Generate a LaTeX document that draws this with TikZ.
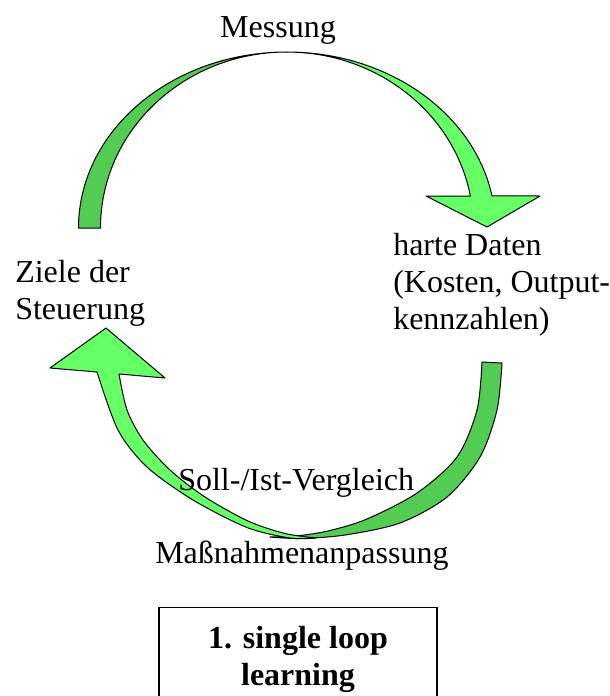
\documentclass[tikz,border=0pt]{standalone}
\usepackage{fontspec}
\setmainfont{Liberation Serif}
\usepackage{tikz}
\usetikzlibrary{positioning}
\definecolor{loopgreen}{HTML}{66FF66}
\definecolor{loopshade}{HTML}{52CC52}

\begin{document}
\begin{tikzpicture}[
    x=0.75pt, y=-0.75pt,
    label/.style={font=\fontsize{24}{27.6}\selectfont, inner sep=0pt, align=left},
    backface/.style={draw=black, line width=0.75pt, fill=loopshade, line join=round},
    frontface/.style={draw=black, line width=0.75pt, fill=loopgreen, line join=round},
    titlebox/.style={draw, line width=1pt, font=\fontsize{24}{27.6}\selectfont\bfseries,
                     align=center, minimum width=208.5pt, inner xsep=4pt, inner ysep=14pt}
]
\path[use as bounding box] (0,0) rectangle (610,696);
\clip (0,0) rectangle (610,696);

% --- upper arrow (Ziele -> harte Daten) ---
\draw[backface] (78.5,228) arc[start angle=180, end angle=270, x radius=208.5, y radius=176]
    arc[start angle=270, end angle=180, x radius=186.5, y radius=176] -- cycle;
\draw[frontface] (287,52) arc[start angle=270, end angle=349.5, x radius=208.5, y radius=176]
    -- (540,196) -- (487,227) -- (426,196) -- (470.4,196)
    arc[start angle=349.5, end angle=270, x radius=186.5, y radius=176] -- cycle;

% --- lower arrow (harte Daten -> Ziele) ---
\draw[backface] plot[smooth] coordinates {(502,363) (497,410) (480,457) (447,497) (400,523) (345,535) (300,538.5) (270,537)}
    -- plot[smooth] coordinates {(270,537) (300,535.5) (330,530.5) (367,519) (417,493) (457,457) (477,410) (482,362)} -- cycle;
\draw[frontface] plot[smooth] coordinates {(316,538) (290,538) (247,527.5) (193,500) (147,467) (118,430) (97,372)}
    -- (50,368) -- (106,328) -- (165,378)
    -- plot[smooth] coordinates {(119,374) (127,410) (143,440) (170,470) (205,497) (248,521) (285,533.5) (316,538)} -- cycle;

% --- labels ---
\node[label, anchor=base] (mess) at (278,37) {Messung};
\node[label, anchor=base west] (ziele) at (15,319) {Ziele der\\Steuerung};
\node[label, anchor=base west] (daten) at (393,329) {harte Daten\\(Kosten, Output-\\kennzahlen)};
\node[label, anchor=base west] (soll) at (178,490) {Soll-/Ist-Vergleich};
\node[label, anchor=base west] (mass) at (155,563) {Maßnahmenanpassung};

% --- title box ---
\node[titlebox, anchor=north] (title) at (298,607) {1. single loop\\learning};

\end{tikzpicture}
\end{document}
